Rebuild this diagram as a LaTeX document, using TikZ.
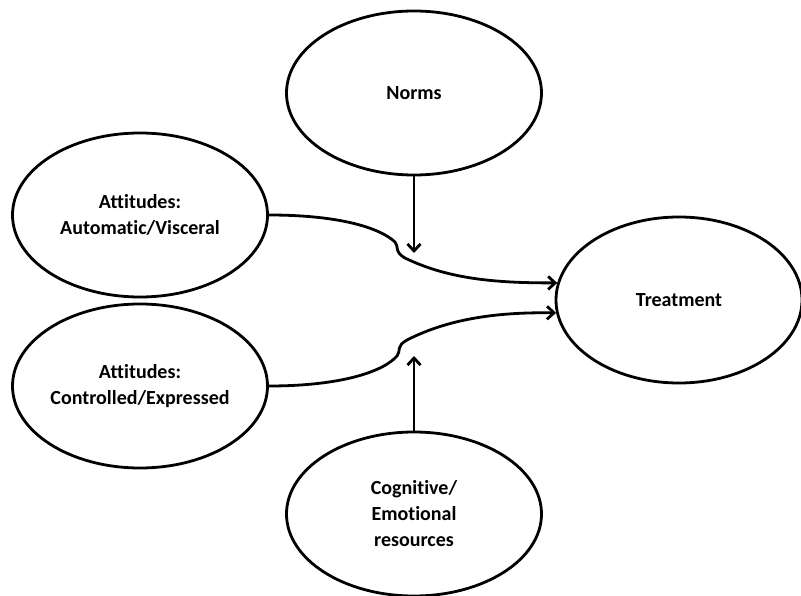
\documentclass[tikz,border=0pt]{standalone}
\usepackage{fontspec}
\setmainfont[Ligatures=NoCommon]{Carlito}
\usepackage{tikz}
\usetikzlibrary{shapes.geometric, arrows.meta}

\tikzset{
  construct/.style={ellipse, draw, line width=2.8pt, inner sep=0pt,
    minimum width=255pt, minimum height=164pt, align=center,
    font=\bfseries\fontsize{20}{26}\selectfont},
  flow/.style={line width=2.8pt, -{Straight Barb[length=7pt,width=13pt]}}
}

\begin{document}
\begin{tikzpicture}[x=1pt, y=-1pt]
\useasboundingbox (0,0) rectangle (801,596);

% Constructs
\node[construct] (norms) at (414,93) {Norms};
\node[construct] (automatic) at (140,215) {Attitudes:\\Automatic/Visceral};
\node[construct] (controlled) at (140,386) {Attitudes:\\Controlled/Expressed};
\node[construct] (resources) at (414,514) {Cognitive/\\Emotional\\resources};
\node[construct, minimum width=246pt, minimum height=166pt] (treatment) at (679,300) {Treatment};

% Where the moderators meet the paths
\coordinate (normstip) at (414,253);
\coordinate (resourcestip) at (414,356);

% Paths to treatment, with a kink under each moderator
\draw[flow] (automatic.east) .. controls (340,215) and (380,228) .. (395,242)
  .. controls (399,246) and (394,252) .. (405,258)
  .. controls (450,280) and (500,283) .. (treatment.172);
\draw[flow] (controlled.east) .. controls (340,386) and (383,372) .. (397,356)
  .. controls (401,351) and (396,346) .. (407,340)
  .. controls (450,318) and (500,312) .. (treatment.186);

% Moderators
\draw[flow] (norms.south) -- (normstip);
\draw[flow] (resources.north) -- (resourcestip);
\end{tikzpicture}
\end{document}
